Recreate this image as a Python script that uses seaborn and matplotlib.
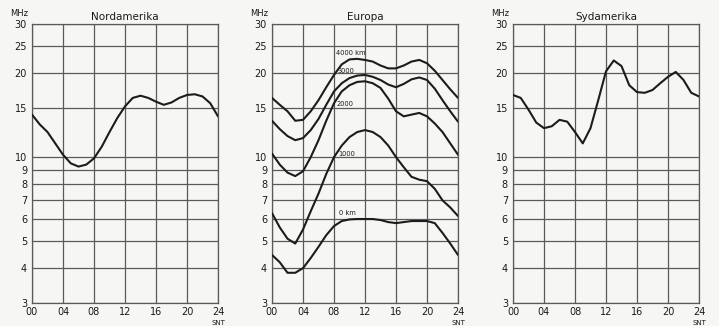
import numpy as np
import pandas as pd
import matplotlib
matplotlib.use("Agg")
import matplotlib.pyplot as plt
import seaborn as sns

hours = list(range(0, 25))

# Nordamerika
nordamerika = [14.2, 13.1, 12.3, 11.2, 10.2, 9.5, 9.25, 9.4, 9.9, 10.9, 12.3, 13.8, 15.2,
               16.3, 16.6, 16.3, 15.8, 15.4, 15.7, 16.3, 16.7, 16.8, 16.5, 15.6, 14.0]

# Europa, one curve per distance
europa_4000 = [16.3, 15.4, 14.6, 13.5, 13.6, 14.6, 16.0, 17.8, 19.7, 21.5, 22.4, 22.5, 22.3,
               22.0, 21.3, 20.8, 20.8, 21.3, 22.0, 22.3, 21.7, 20.4, 18.9, 17.5, 16.3]
europa_3000 = [13.5, 12.6, 11.9, 11.5, 11.7, 12.5, 13.7, 15.4, 17.2, 18.4, 19.2, 19.6, 19.7,
               19.4, 18.9, 18.2, 17.8, 18.3, 19.0, 19.3, 18.9, 17.6, 16.0, 14.6, 13.4]
europa_2000 = [10.3, 9.4, 8.8, 8.55, 8.9, 10.0, 11.5, 13.5, 15.6, 17.2, 18.1, 18.6, 18.7,
               18.4, 17.7, 16.2, 14.6, 14.0, 14.2, 14.4, 14.0, 13.2, 12.3, 11.2, 10.2]
europa_1000 = [6.3, 5.6, 5.1, 4.9, 5.5, 6.4, 7.4, 8.7, 10.0, 11.0, 11.8, 12.3, 12.5,
               12.3, 11.8, 11.0, 10.0, 9.2, 8.5, 8.3, 8.2, 7.7, 7.0, 6.6, 6.15]
europa_0 = [4.46, 4.2, 3.85, 3.85, 4.0, 4.35, 4.77, 5.25, 5.66, 5.9, 5.98, 6.0, 6.0,
            6.0, 5.95, 5.85, 5.8, 5.85, 5.9, 5.9, 5.9, 5.8, 5.35, 4.9, 4.46]

# Sydamerika
sydamerika = [16.7, 16.3, 14.8, 13.3, 12.7, 12.9, 13.6, 13.4, 12.3, 11.2, 12.7, 16.0, 20.3,
              22.2, 21.2, 18.1, 17.1, 17.0, 17.4, 18.4, 19.4, 20.2, 18.9, 17.0, 16.5]

europa_labels = ["4000 km", "3000", "2000", "1000", "0 km"]
europa_label_pos = [(8.3, 23.6), (8.5, 20.4), (8.3, 15.5), (8.5, 10.3), (8.6, 6.3)]

ytick_vals = [3, 4, 5, 6, 7, 8, 9, 10, 15, 20, 25, 30]
xtick_vals = [0, 4, 8, 12, 16, 20, 24]
xtick_labels = ["00", "04", "08", "12", "16", "20", "24"]

sns.set_theme(style="white")
plt.rcParams["font.family"] = ["DejaVu Sans"]

bg = "#f6f6f4"
grid_col = "#5a5a5a"
line_col = "#1c1c1c"

fig = plt.figure(figsize=(7.19, 3.26), dpi=100)
fig.patch.set_facecolor(bg)

lefts = [32 / 719, 272 / 719, 513 / 719]
width = 186 / 719
bottom = 1 - 303 / 326
height = 279 / 326


def setup_axes(ax, title):
    ax.set_facecolor(bg)
    ax.set_yscale("log")
    ax.set_xlim(0, 24)
    ax.set_ylim(3, 30)
    ax.set_yticks(ytick_vals)
    ax.set_yticklabels([str(v) for v in ytick_vals])
    ax.minorticks_off()
    ax.set_xticks(xtick_vals)
    ax.set_xticklabels(xtick_labels)
    ax.tick_params(axis="y", labelsize=7, length=0, pad=3.6, colors="#1a1a1a")
    ax.tick_params(axis="x", labelsize=7, length=0, pad=2.6, colors="#1a1a1a")
    for v in ytick_vals:
        ax.axhline(v, color=grid_col, lw=0.9, zorder=1)
    for v in xtick_vals:
        ax.axvline(v, color=grid_col, lw=0.9, zorder=1)
    for s in ax.spines.values():
        s.set_color(grid_col)
        s.set_linewidth(0.9)
    ax.set_xlabel("")
    ax.set_ylabel("")
    ax.set_title(title, fontsize=7.5, pad=3, color="#1a1a1a")
    ax.text(-0.115, 1.022, "MHz", transform=ax.transAxes, fontsize=6,
            ha="left", va="bottom", color="#1a1a1a")
    ax.text(1.0, -0.083, "SNT", transform=ax.transAxes, fontsize=5,
            ha="center", va="bottom", color="#1a1a1a")


# Nordamerika
ax1 = fig.add_axes([lefts[0], bottom, width, height])
df1 = pd.DataFrame({"hour": hours, "mhz": nordamerika})
sns.lineplot(data=df1, x="hour", y="mhz", ax=ax1, color=line_col, lw=1.5, zorder=3)
setup_axes(ax1, "Nordamerika")

# Europa
ax2 = fig.add_axes([lefts[1], bottom, width, height])
df2 = pd.DataFrame({
    "hour": hours * 5,
    "mhz": europa_4000 + europa_3000 + europa_2000 + europa_1000 + europa_0,
    "dist": sum([[lab] * len(hours) for lab in europa_labels], []),
})
sns.lineplot(data=df2, x="hour", y="mhz", units="dist", estimator=None, ax=ax2,
             color=line_col, lw=1.5, zorder=3, legend=False)
setup_axes(ax2, "Europa")
for lab, (x, y) in zip(europa_labels, europa_label_pos):
    ax2.text(x, y, lab, fontsize=4.8, ha="left", va="center", color="#1a1a1a", zorder=4)

# Sydamerika
ax3 = fig.add_axes([lefts[2], bottom, width, height])
df3 = pd.DataFrame({"hour": hours, "mhz": sydamerika})
sns.lineplot(data=df3, x="hour", y="mhz", ax=ax3, color=line_col, lw=1.5, zorder=3)
setup_axes(ax3, "Sydamerika")

fig.savefig("out.png", dpi=100, facecolor=bg)
